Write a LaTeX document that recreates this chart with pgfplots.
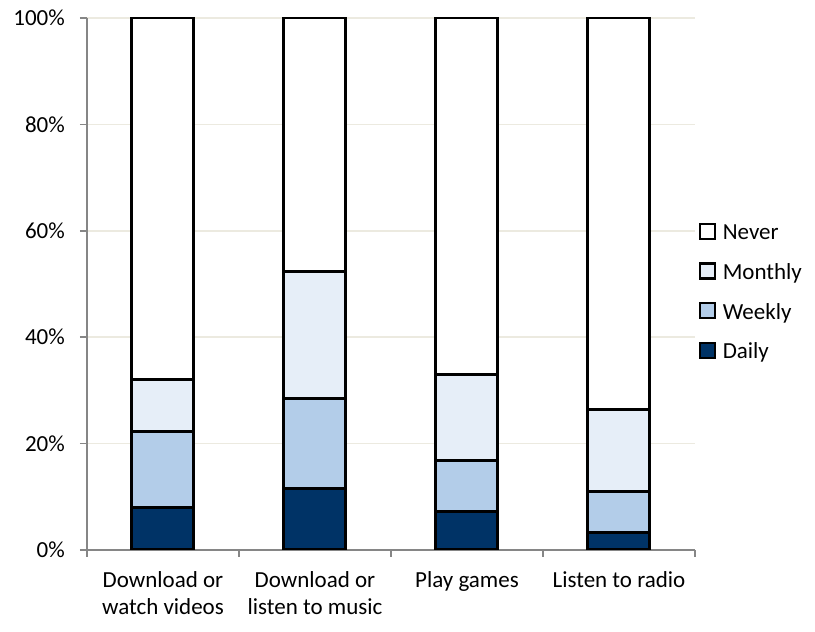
\documentclass[border=0pt]{standalone}
\usepackage{fontspec}
\setmainfont{Carlito}
\usepackage{pgfplots}
\pgfplotsset{compat=1.18}
\definecolor{daily}{RGB}{0,51,102}
\definecolor{weekly}{RGB}{179,205,233}
\definecolor{monthly}{RGB}{230,238,248}
\definecolor{gridc}{RGB}{236,234,224}
\definecolor{axisc}{RGB}{134,134,134}
\begin{document}
\begin{tikzpicture}
\useasboundingbox (-87pt,-82pt) rectangle (728pt,550pt);
\begin{axis}[
  at={(0,0)}, anchor=south west,
  scale only axis, width=608pt, height=532pt,
  ybar stacked, bar width=62pt,
  xmin=-0.5, xmax=3.5, ymin=0, ymax=100,
  axis x line*=bottom, axis y line*=left,
  axis line style={axisc, line width=1.5pt},
  ytick={0,20,...,100},
  yticklabels={0\%,20\%,40\%,60\%,80\%,100\%},
  xtick={0,1,2,3},
  xticklabels={Download or\\watch videos, Download or\\listen to music, Play games, Listen to radio},
  minor xtick={-0.5,0.5,1.5,2.5,3.5},
  major x tick style={draw=none},
  minor x tick style={axisc, line width=1.5pt},
  ytick style={axisc, line width=1.5pt},
  major tick length=7pt, minor tick length=7pt,
  tick align=outside,
  ymajorgrids, grid style={gridc, line width=1.5pt},
  ticklabel style={font=\fontsize{23}{27}\selectfont},
  xticklabel style={align=center, inner sep=0pt, yshift=-14pt},
  yticklabel style={inner sep=0pt, xshift=-15pt},
  legend style={draw=none, fill=none, at={(1,0.487)}, anchor=west, xshift=4pt,
    font=\fontsize{23}{26}\selectfont, row sep=20pt, inner sep=0pt,
    nodes={inner sep=0pt}},
  legend cell align=left,
  legend image code/.code={\draw[#1, line width=2.2pt] (0pt,-7.5pt) rectangle (15pt,7.5pt); \path (21pt,0pt);},
  reverse legend,
  every axis plot/.append style={draw=black, line width=3pt},
]
\addplot[fill=daily] coordinates {(0,8.0) (1,11.5) (2,7.2) (3,3.3)};
\addplot[fill=weekly] coordinates {(0,14.3) (1,17.0) (2,9.6) (3,7.7)};
\addplot[fill=monthly] coordinates {(0,9.8) (1,23.8) (2,16.1) (3,15.5)};
\addplot[fill=white] coordinates {(0,67.9) (1,47.7) (2,67.1) (3,73.5)};
\legend{\strut Daily,\strut Weekly,\strut Monthly,\strut Never}
\end{axis}
\end{tikzpicture}
\end{document}
